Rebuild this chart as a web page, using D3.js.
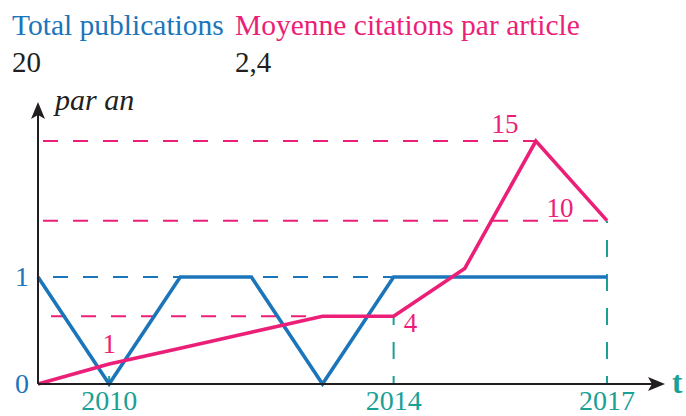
<!DOCTYPE html>
<html>
<head>
<meta charset="utf-8">
<script src="https://cdn.jsdelivr.net/npm/d3@7"></script>
<style>
  html, body { margin: 0; padding: 0; background: #fff; }
</style>
</head>
<body>
<div id="chart"></div>
<script>
// data
const years = [2009, 2010, 2011, 2012, 2013, 2014, 2015, 2016, 2017];
const publications = [1, 0, 1, 1, 0, 1, 1, 1, 1];
const citations = [0, 1, 2, 3, 4, 4, 7, 15, 10];
const tickYears = [2010, 2014, 2017];
const pubTicks = [0, 1];
const labelledYears = [2010, 2014, 2016, 2017];
const headers = ['Total publications', 'Moyenne citations par article'];
const headerValues = ['20', '2,4'];

const width = 686, height = 416;
const BLUE = '#1b75bb', PINK = '#ec1f78', TEAL = '#1aa095', INK = '#231f20';
const FONT = "'Liberation Serif', 'Times New Roman', Tinos, 'DejaVu Serif', serif";

const svg = d3.select('#chart').append('svg')
    .attr('width', width)
    .attr('height', height)
    .attr('font-family', FONT)
    .style('display', 'block');

const x = d3.scaleLinear()
    .domain([2009, 2017])
    .range([38, 607]);

const yPub = d3.scaleLinear()
    .domain([0, 1])
    .range([384, 277]);

// the drawing is schematic: fitted on the labelled points
const yCit = d3.scaleLinear()
    .domain([0, 15])
    .range([380, 141]);

const cit = yr => citations[years.indexOf(yr)];

// headers
svg.selectAll('.header')
    .data(headers)
    .enter()
    .append('text')
    .attr('x', (d, i) => i === 0 ? 12 : 235)
    .attr('y', 35)
    .attr('font-size', 29.5)
    .attr('fill', (d, i) => i === 0 ? BLUE : PINK)
    .text(d => d);

svg.selectAll('.header-value')
    .data(headerValues)
    .enter()
    .append('text')
    .attr('x', (d, i) => i === 0 ? 12 : 235)
    .attr('y', 72)
    .attr('font-size', 29)
    .attr('fill', INK)
    .text(d => d);

// dashed guides
const guides = svg.append('g')
    .attr('fill', 'none')
    .attr('stroke-width', 2)
    .attr('stroke-dasharray', '15,15');

guides.append('line')
    .attr('x1', x(2009) + 5).attr('x2', x(2016))
    .attr('y1', yCit(cit(2016))).attr('y2', yCit(cit(2016)))
    .attr('stroke', PINK);

guides.append('line')
    .attr('x1', x(2009) + 5).attr('x2', x(2017))
    .attr('y1', yCit(cit(2017))).attr('y2', yCit(cit(2017)))
    .attr('stroke', PINK);

guides.append('line')
    .attr('x1', x(2009) + 13).attr('x2', x(2013))
    .attr('y1', yCit(cit(2014))).attr('y2', yCit(cit(2014)))
    .attr('stroke', PINK);

guides.append('line')
    .attr('x1', x(2009) + 15).attr('x2', x(2014))
    .attr('y1', yPub(1)).attr('y2', yPub(1))
    .attr('stroke', BLUE);

guides.selectAll('.vguide')
    .data(tickYears)
    .enter()
    .append('line')
    .attr('x1', d => x(d)).attr('x2', d => x(d))
    .attr('y1', yPub(0)).attr('y2', d => yCit(cit(d)))
    .attr('stroke', TEAL)
    .attr('stroke-dasharray', '17,17')
    .attr('stroke-dashoffset', 9);

// series
const line = y => d3.line()
    .x((d, i) => x(years[i]))
    .y(d => y(d));

svg.append('path')
    .datum(publications)
    .attr('d', line(yPub))
    .attr('fill', 'none')
    .attr('stroke', BLUE)
    .attr('stroke-width', 3.6)
    .attr('stroke-linejoin', 'miter');

// pink line leaves from the origin of the axes
svg.append('path')
    .datum(citations)
    .attr('d', d3.line()
        .x((d, i) => x(years[i]))
        .y((d, i) => i === 0 ? yPub(0) : yCit(d)))
    .attr('fill', 'none')
    .attr('stroke', PINK)
    .attr('stroke-width', 3.6)
    .attr('stroke-linejoin', 'miter');

// axes with arrow heads
const axes = svg.append('g');
const x0 = x(2009), y0 = yPub(0);

axes.append('line')
    .attr('x1', x0).attr('x2', 652)
    .attr('y1', y0).attr('y2', y0)
    .attr('stroke', INK).attr('stroke-width', 2);

axes.append('line')
    .attr('x1', x0).attr('x2', x0)
    .attr('y1', y0).attr('y2', 114)
    .attr('stroke', INK).attr('stroke-width', 2);

axes.append('path')
    .attr('d', `M665,${y0} L648,${y0 - 7} L652,${y0} L648,${y0 + 7} Z`)
    .attr('fill', INK);

axes.append('path')
    .attr('d', `M${x0},102 L${x0 - 7},119 L${x0},115 L${x0 + 7},119 Z`)
    .attr('fill', INK);

axes.append('text')
    .attr('x', 55).attr('y', 110)
    .attr('font-size', 30)
    .attr('font-style', 'italic')
    .attr('fill', INK)
    .text('par an');

axes.append('text')
    .attr('x', 672).attr('y', 393)
    .attr('font-size', 31)
    .attr('font-weight', 'bold')
    .attr('fill', TEAL)
    .text('t');

// tick labels
svg.selectAll('.xtick')
    .data(tickYears)
    .enter()
    .append('text')
    .attr('x', d => x(d))
    .attr('y', 410)
    .attr('text-anchor', 'middle')
    .attr('font-size', 28)
    .attr('fill', TEAL)
    .text(d => d);

svg.selectAll('.ytick')
    .data(pubTicks)
    .enter()
    .append('text')
    .attr('x', 22)
    .attr('y', d => yPub(d) + 9)
    .attr('text-anchor', 'middle')
    .attr('font-size', 28)
    .attr('fill', BLUE)
    .text(d => d);

// value labels on the citation line
const labelOffset = {
    2010: [0, -11, 'middle'],
    2014: [10, 16, 'start'],
    2016: [-31, -8, 'middle'],
    2017: [-47, -4, 'middle']
};

svg.selectAll('.vlabel')
    .data(labelledYears)
    .enter()
    .append('text')
    .attr('x', d => x(d) + labelOffset[d][0])
    .attr('y', d => yCit(cit(d)) + labelOffset[d][1])
    .attr('text-anchor', d => labelOffset[d][2])
    .attr('font-size', 27)
    .attr('fill', PINK)
    .text(d => cit(d));
</script>
</body>
</html>
